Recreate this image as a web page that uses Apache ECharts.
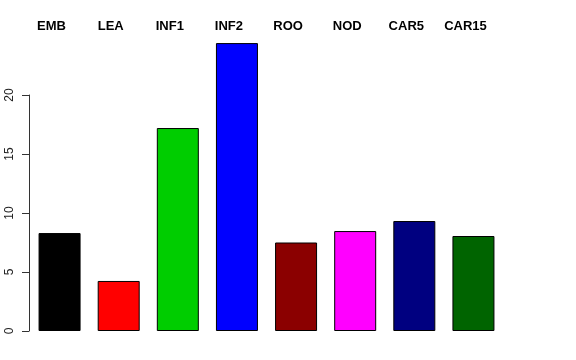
<!DOCTYPE html>
<html><head><meta charset="utf-8">
<script src="https://cdn.jsdelivr.net/npm/echarts@6/dist/echarts.min.js"></script>
<style>html,body{margin:0;padding:0;background:#fff}#c{width:576px;height:360px}</style>
</head><body><div id="c"></div>
<script>
const categories = ["EMB","LEA","INF1","INF2","ROO","NOD","CAR5","CAR15"];
const values = [8.3, 4.24, 17.2, 24.4, 7.5, 8.47, 9.32, 8.05];
const colors = ["#000000","#FF0000","#00CD00","#0000FF","#8B0000","#FF00FF","#000080","#006400"];
const yTicks = [0,5,10,15,20];

const chart = echarts.init(document.getElementById('c'), null, {renderer:'canvas'});
chart.setOption({
  animation:false,
  grid:[
    {left:30, width:473, top:36, bottom:29},
    {left:29, width:473, top:95, bottom:29}
  ],
  xAxis:[
    {type:'category', data:categories, gridIndex:0, position:'top',
     axisLine:{show:false}, axisTick:{show:false},
     axisLabel:{color:'#000', fontFamily:'Liberation Sans, Arial, sans-serif', fontWeight:'bold', fontSize:13, margin:3, padding:[0,16,0,0]}},
    {type:'category', data:categories, gridIndex:1, show:false}
  ],
  yAxis:[
    {type:'value', gridIndex:0, min:0, max:25, show:false, splitLine:{show:false}},
    {type:'value', gridIndex:1, min:0, max:20, interval:5,
     axisLine:{show:true, lineStyle:{color:'#333', width:1}},
     axisTick:{show:true, length:7, lineStyle:{color:'#333'}},
     splitLine:{show:false},
     axisLabel:{rotate:90, color:'#222', fontFamily:'Liberation Sans, Arial, sans-serif', fontSize:12, margin:13,
       formatter: v => yTicks.includes(v) ? String(v) : ''}}
  ],
  series:[{
    type:'bar', xAxisIndex:0, yAxisIndex:0, barWidth:42,
    data: values.map((v,i)=>({value:v, itemStyle:{color:colors[i]}})),
    itemStyle:{borderColor:'#000', borderWidth:1}
  }]
});
</script></body></html>
